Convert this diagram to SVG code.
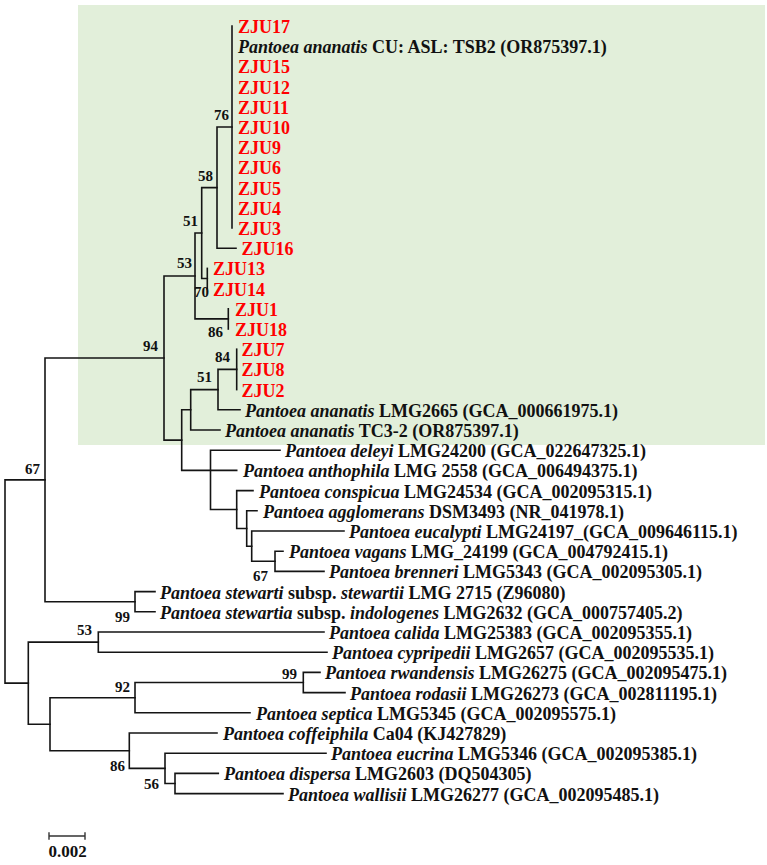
<svg xmlns="http://www.w3.org/2000/svg" width="767" height="865" viewBox="0 0 767 865">
<style>
.br{fill:none;stroke:#141414;stroke-width:1.6;stroke-linecap:square}
.t{font-family:"Liberation Serif","Times New Roman",serif;font-weight:bold;font-size:18px;fill:#111}
.z{font-family:"Liberation Serif","Times New Roman",serif;font-weight:bold;font-size:18px;fill:#ff0000}
.i{font-style:italic}
.bs{font-family:"Liberation Serif","Times New Roman",serif;font-weight:bold;font-size:15px;fill:#111;text-anchor:end}
</style>
<rect x="78" y="5" width="687" height="440" fill="#e2efda"/>
<g id="connectors">
<path class="br" d="M5,479.9V683.1M5,479.9H45M5,683.1H28.3"/>
<path class="br" d="M45,358V601.7M45,358H164M45,601.7H135"/>
<path class="br" d="M164,276V440.1M164,276H195M164,440.1H181.7"/>
<path class="br" d="M195,233V318.9M195,233H201.7M195,318.9H228.3"/>
<path class="br" d="M201.7,187.6V278.5M201.7,187.6H217M201.7,278.5H207.3"/>
<path class="br" d="M217,127V248.2M217,127H232M217,248.2H236"/>
<path class="br" d="M232,26V228"/>
<path class="br" d="M207.3,268.4V288.6"/>
<path class="br" d="M228.3,308.8V329"/>
<path class="br" d="M181.7,409.8V470.4M181.7,409.8H190.7M181.7,470.4H236.7"/>
<path class="br" d="M190.7,389.6V430M190.7,389.6H218M190.7,430H220"/>
<path class="br" d="M218,369.4V409.8M218,369.4H236.7M218,409.8H240"/>
<path class="br" d="M236.7,349.2V389.6"/>
<path class="br" d="M210.5,450.2V509.5M210.5,450.2H280M210.5,509.5H236.7"/>
<path class="br" d="M236.7,490.6V528.5M236.7,490.6H253M236.7,528.5H246.7"/>
<path class="br" d="M246.7,510.8V546.2M246.7,510.8H257M246.7,546.2H251.7"/>
<path class="br" d="M251.7,531V561.3M251.7,531H344M251.7,561.3H275"/>
<path class="br" d="M275,551.2V571.4M275,551.2H283M275,571.4H324"/>
<path class="br" d="M135,591.6V611.8M135,591.6H155M135,611.8H155"/>
<path class="br" d="M28.3,642.1V724.2M28.3,642.1H98.3M28.3,724.2H50"/>
<path class="br" d="M98.3,632V652.2M98.3,632H324M98.3,652.2H327"/>
<path class="br" d="M50,697.7V750.7M50,697.7H135M50,750.7H129.3"/>
<path class="br" d="M135,682.5V712.8M135,682.5H303.3M135,712.8H250"/>
<path class="br" d="M303.3,672.4V692.6M303.3,672.4H320M303.3,692.6H345"/>
<path class="br" d="M129.3,733V768.4M129.3,733H217M129.3,768.4H165"/>
<path class="br" d="M165,753.2V783.5M165,753.2H326M165,783.5H175"/>
<path class="br" d="M175,773.4V793.6M175,773.4H218.3M175,793.6H283"/>
</g>
<g id="support">
<text class="bs" x="229" y="120">76</text>
<text class="bs" x="213" y="180.5">58</text>
<text class="bs" x="198" y="226">51</text>
<text class="bs" x="192" y="268">53</text>
<text class="bs" x="209" y="297">70</text>
<text class="bs" x="223" y="337">86</text>
<text class="bs" x="158" y="351">94</text>
<text class="bs" x="230" y="362">84</text>
<text class="bs" x="212" y="382">51</text>
<text class="bs" x="40" y="473.5">67</text>
<text class="bs" x="268" y="581">67</text>
<text class="bs" x="130" y="622">99</text>
<text class="bs" x="92" y="635">53</text>
<text class="bs" x="297" y="678.5">99</text>
<text class="bs" x="130" y="692">92</text>
<text class="bs" x="125" y="771">86</text>
<text class="bs" x="159" y="789">56</text>
</g>
<g id="taxa">
<g id="zju17"><text class="z" x="238" y="33">ZJU17</text></g>
<g id="cu-asl"><text class="t" x="238" y="53.2"><tspan class="i">Pantoea ananatis</tspan> CU: ASL: TSB2 (OR875397.1)</text></g>
<g id="zju15"><text class="z" x="238" y="73.4">ZJU15</text></g>
<g id="zju12"><text class="z" x="238" y="93.6">ZJU12</text></g>
<g id="zju11"><text class="z" x="238" y="113.8">ZJU11</text></g>
<g id="zju10"><text class="z" x="238" y="134">ZJU10</text></g>
<g id="zju9"><text class="z" x="238" y="154.2">ZJU9</text></g>
<g id="zju6"><text class="z" x="238" y="174.4">ZJU6</text></g>
<g id="zju5"><text class="z" x="238" y="194.6">ZJU5</text></g>
<g id="zju4"><text class="z" x="238" y="214.8">ZJU4</text></g>
<g id="zju3"><text class="z" x="238" y="235">ZJU3</text></g>
<g id="zju16"><text class="z" x="241.5" y="255.2">ZJU16</text></g>
<g id="zju13"><text class="z" x="213" y="275.4">ZJU13</text></g>
<g id="zju14"><text class="z" x="213" y="295.6">ZJU14</text></g>
<g id="zju1"><text class="z" x="235" y="315.8">ZJU1</text></g>
<g id="zju18"><text class="z" x="235" y="336">ZJU18</text></g>
<g id="zju7"><text class="z" x="241.5" y="356.2">ZJU7</text></g>
<g id="zju8"><text class="z" x="241.5" y="376.4">ZJU8</text></g>
<g id="zju2"><text class="z" x="241.5" y="396.6">ZJU2</text></g>
<g id="lmg2665"><text class="t" x="245" y="416.8"><tspan class="i">Pantoea ananatis</tspan> LMG2665 (GCA_000661975.1)</text></g>
<g id="tc3-2"><text class="t" x="225" y="437"><tspan class="i">Pantoea ananatis</tspan> TC3-2 (OR875397.1)</text></g>
<g id="deleyi"><text class="t" x="285" y="457.2"><tspan class="i">Pantoea deleyi</tspan> LMG24200 (GCA_022647325.1)</text></g>
<g id="anthophila"><text class="t" x="243" y="477.4"><tspan class="i">Pantoea anthophila</tspan> LMG 2558 (GCA_006494375.1)</text></g>
<g id="conspicua"><text class="t" x="259" y="497.6"><tspan class="i">Pantoea conspicua</tspan> LMG24534 (GCA_002095315.1)</text></g>
<g id="agglomerans"><text class="t" x="263" y="517.8"><tspan class="i">Pantoea agglomerans</tspan> DSM3493 (NR_041978.1)</text></g>
<g id="eucalypti"><text class="t" x="349" y="538"><tspan class="i">Pantoea eucalypti</tspan> LMG24197_(GCA_009646115.1)</text></g>
<g id="vagans"><text class="t" x="289" y="558.2"><tspan class="i">Pantoea vagans</tspan> LMG_24199 (GCA_004792415.1)</text></g>
<g id="brenneri"><text class="t" x="329" y="578.4"><tspan class="i">Pantoea brenneri</tspan> LMG5343 (GCA_002095305.1)</text></g>
<g id="stewartii"><text class="t" x="160" y="598.6"><tspan class="i">Pantoea stewarti</tspan> subsp. <tspan class="i">stewartii</tspan> LMG 2715 (Z96080)</text></g>
<g id="indologenes"><text class="t" x="160" y="618.8"><tspan class="i">Pantoea stewartia</tspan> subsp. <tspan class="i">indologenes</tspan> LMG2632 (GCA_000757405.2)</text></g>
<g id="calida"><text class="t" x="329" y="639"><tspan class="i">Pantoea calida</tspan> LMG25383 (GCA_002095355.1)</text></g>
<g id="cypripedii"><text class="t" x="332" y="659.2"><tspan class="i">Pantoea cypripedii</tspan> LMG2657 (GCA_002095535.1)</text></g>
<g id="rwandensis"><text class="t" x="325" y="679.4"><tspan class="i">Pantoea rwandensis</tspan> LMG26275 (GCA_002095475.1)</text></g>
<g id="rodasii"><text class="t" x="350" y="699.6"><tspan class="i">Pantoea rodasii</tspan> LMG26273 (GCA_002811195.1)</text></g>
<g id="septica"><text class="t" x="256" y="719.8"><tspan class="i">Pantoea septica</tspan> LMG5345 (GCA_002095575.1)</text></g>
<g id="coffeiphila"><text class="t" x="223" y="740"><tspan class="i">Pantoea coffeiphila</tspan> Ca04 (KJ427829)</text></g>
<g id="eucrina"><text class="t" x="331" y="760.2"><tspan class="i">Pantoea eucrina</tspan> LMG5346 (GCA_002095385.1)</text></g>
<g id="dispersa"><text class="t" x="224" y="780.4"><tspan class="i">Pantoea dispersa</tspan> LMG2603 (DQ504305)</text></g>
<g id="wallisii"><text class="t" x="288" y="800.6"><tspan class="i">Pantoea wallisii</tspan> LMG26277 (GCA_002095485.1)</text></g>
</g>
<g id="scale">
<path class="br" d="M49,836H85M49,833V839M85,833V839" style="stroke-width:1.4;stroke:#333"/>
<text class="t" x="67.5" y="857" text-anchor="middle" style="font-size:17px">0.002</text>
</g>
</svg>
